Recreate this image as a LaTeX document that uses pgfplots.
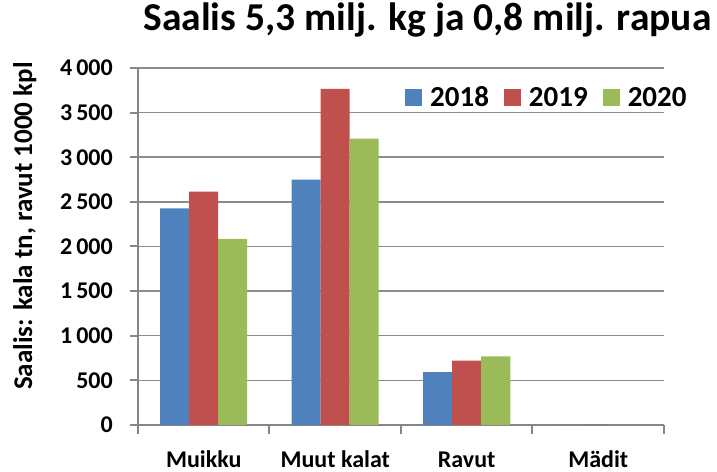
\documentclass[border=0pt]{standalone}
\usepackage{fontspec}
\setmainfont{Carlito}
\usepackage{pgfplots}
\pgfplotsset{compat=1.18}
\definecolor{cA}{HTML}{4F81BD}
\definecolor{cB}{HTML}{C0504D}
\definecolor{cC}{HTML}{9BBB59}
\definecolor{axgray}{HTML}{868686}
\definecolor{grgray}{HTML}{8C8C8C}
\begin{document}
\begin{tikzpicture}
\begin{axis}[
  scale only axis, width=526pt, height=357pt,
  ybar=0pt, bar width=29pt,
  xmin=-0.5, xmax=3.5, ymin=0, ymax=4000,
  xtick={0,1,2,3},
  xticklabels={Muikku,Muut kalat,Ravut,Mädit},
  minor xtick={-0.5,0.5,1.5,2.5,3.5},
  ytick={0,500,1000,1500,2000,2500,3000,3500,4000},
  yticklabels={0,500,1\,000,1\,500,2\,000,2\,500,3\,000,3\,500,4\,000},
  axis x line*=bottom, axis y line*=left,
  axis line style={draw=axgray, line width=2pt},
  ymajorgrids, grid style={draw=grgray, line width=1.5pt},
  tick align=outside, major tick length=8pt, minor tick length=9pt,
  tick style={draw=axgray, line width=2pt},
  major x tick style={draw=none},
  xticklabel style={font=\bfseries\fontsize{24}{26}\selectfont, anchor=base, inner sep=0pt, yshift=-35pt},
  yticklabel style={font=\bfseries\fontsize{24}{26}\selectfont, anchor=east, inner sep=0pt, xshift=-17pt},
  title={Saalis 5,3 milj. kg ja 0,8 milj. rapua},
  title style={at={(axis description cs:0.5504,1.0896)}, anchor=base, inner sep=0pt, font=\bfseries\fontsize{39.5}{41}\selectfont},
  ylabel={Saalis: kala tn, ravut 1000 kpl},
  ylabel style={at={(axis description cs:-0.2015,0.557)}, anchor=base, inner sep=0pt, font=\bfseries\fontsize{27}{29}\selectfont},
  legend columns=3,
  legend image code/.code={\path[#1,draw=none] (0pt,-8.5pt) rectangle (17pt,8.5pt);},
  legend style={at={(axis description cs:0.5076,0.917)}, anchor=west, draw=none, fill=none, inner sep=0pt,
    font=\bfseries\fontsize{29}{30}\selectfont,
    nodes={inner sep=0pt},
    /tikz/every odd column/.append style={column sep=8pt},
    /tikz/every even column/.append style={column sep=15pt}},
]
\addplot[fill=cA, draw=none] coordinates {(0,2427) (1,2750) (2,592) (3,0)};
\addplot[fill=cB, draw=none] coordinates {(0,2614) (1,3765) (2,722) (3,0)};
\addplot[fill=cC, draw=none] coordinates {(0,2086) (1,3209) (2,770) (3,0)};
\legend{2018,2019,2020}
\end{axis}
\pgfresetboundingbox
\path[use as bounding box] ([shift={(-138pt,-47pt)}]current axis.south west) rectangle ([shift={(53pt,68pt)}]current axis.north east);
\end{tikzpicture}
\end{document}
